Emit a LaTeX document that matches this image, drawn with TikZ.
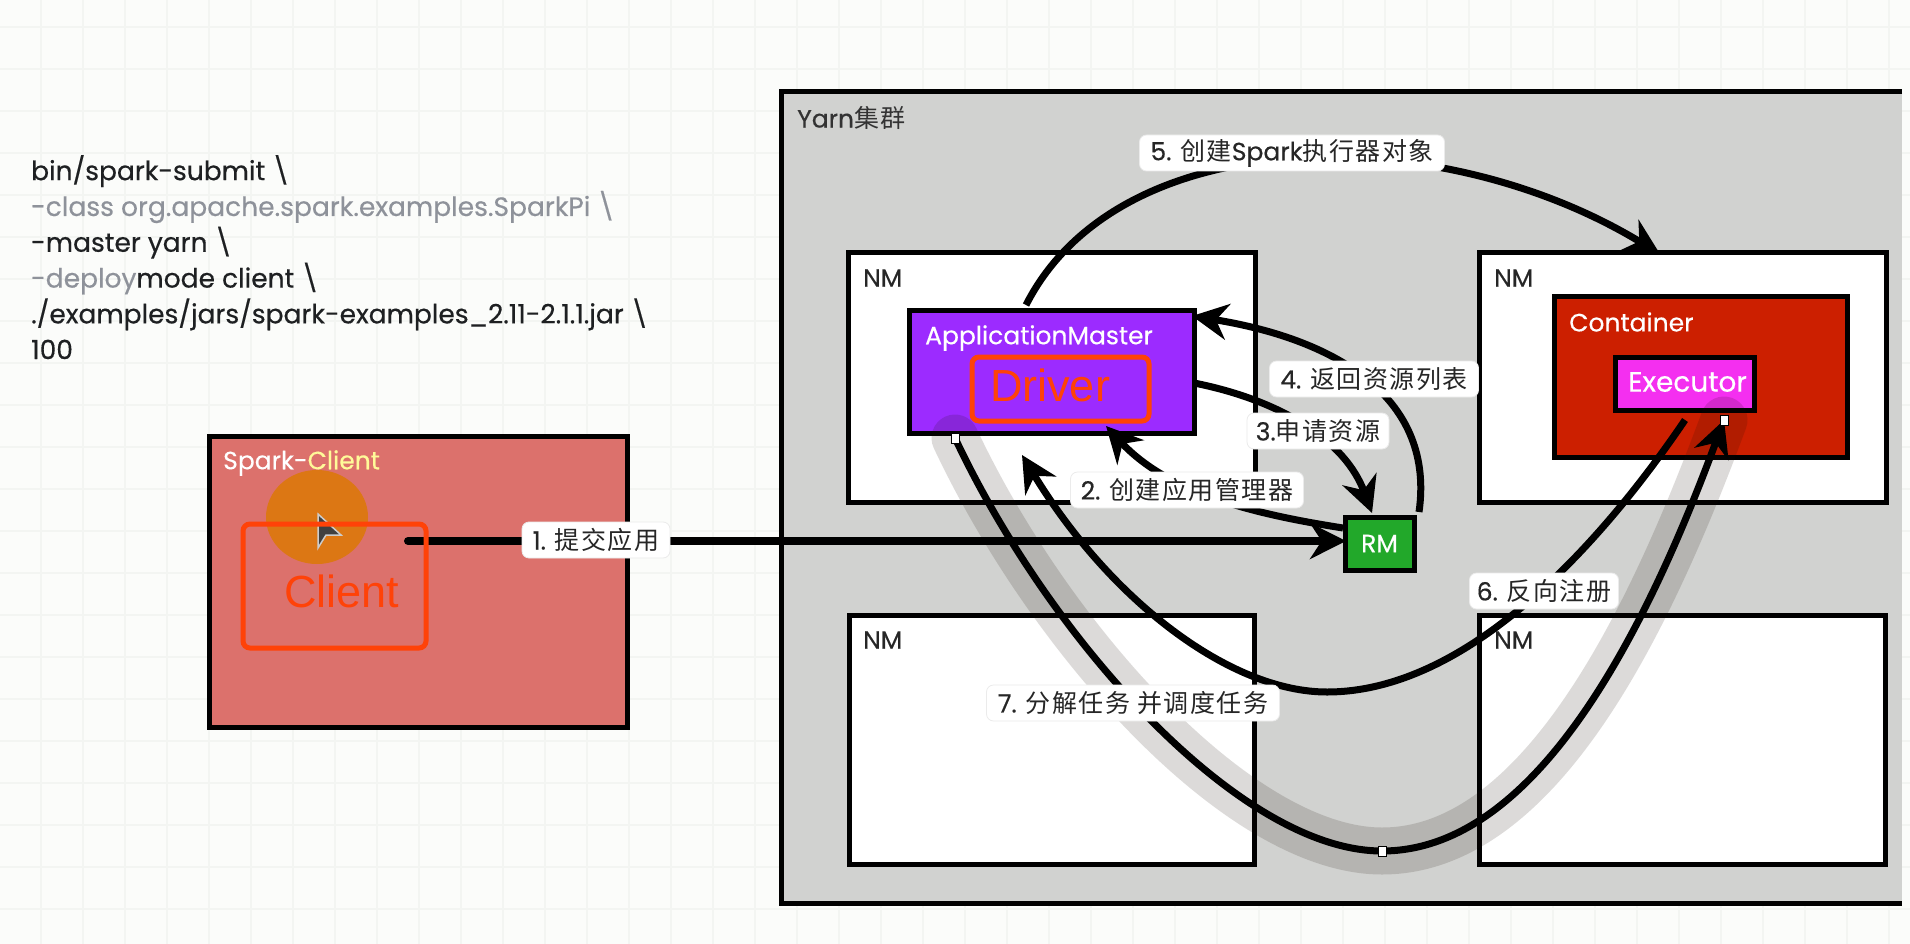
\documentclass[tikz,border=0pt]{standalone}
\usepackage{fontspec}
\usepackage{tikz}
\usetikzlibrary{arrows.meta, shapes.geometric}
\setmainfont[FakeBold=0.4]{Poppins}
\setsansfont{Liberation Sans}
\newfontfamily\cjk[LetterSpace=6]{Noto Sans CJK SC}

\definecolor{pagebg}{HTML}{FBFCFA}
\definecolor{gridline}{HTML}{F3F5F2}
\definecolor{yarngray}{HTML}{D1D2D0}
\definecolor{clientred}{HTML}{DC716C}
\definecolor{dotorange}{HTML}{DC7714}
\definecolor{markred}{HTML}{FF4208}
\definecolor{amviolet}{HTML}{9C2BFF}
\definecolor{boxred}{HTML}{CC1F00}
\definecolor{execpink}{HTML}{F42FF0}
\definecolor{rmgreen}{HTML}{22A82A}
\definecolor{cmdgray}{HTML}{8E929A}
\definecolor{cmdblack}{HTML}{1E2022}
\definecolor{bandbrown}{HTML}{1A0C00}

\tikzset{
    boxbase/.style={draw=black, line width=5pt, anchor=north west, inner sep=0pt, outer sep=0pt},
    nmbox/.style={boxbase, fill=white},
    handwrite/.style={anchor=west, inner sep=0pt, font=\fontsize{25}{30}\selectfont},
    marktext/.style={text=markred, inner sep=0pt, font=\sffamily\fontsize{45}{50}\selectfont},
    markbox/.style={draw=markred, line width=5pt, rounded corners=7pt, anchor=north west, inner sep=0pt, outer sep=0pt},
    steplabel/.style={draw=black!8, line width=.8pt, fill=white, rounded corners=7pt, inner sep=0pt, text=black!85,
        minimum height=36pt, font=\fontsize{25}{30}\selectfont},
    flow/.style={draw=black, line width=7pt, -{Stealth[length=36pt,width=36pt]}},
    shadowband/.style={draw=bandbrown, line width=47pt, opacity=.15, line cap=round},
    handle/.style={draw=black, line width=1pt, fill=white, inner sep=0pt, outer sep=0pt, minimum width=8pt, minimum height=10pt},
}

\begin{document}
\begin{tikzpicture}[x=1pt, y=-1pt]
    \useasboundingbox (0,0) rectangle (1910,944);

    % 背景网格
    \fill[pagebg] (0,0) rectangle (1910,944);
    \foreach \gx in {41,83,...,1905} {\draw[gridline, line width=2pt] (\gx,0) -- (\gx,944);}
    \foreach \gy in {27,69,...,944} {\draw[gridline, line width=2pt] (0,\gy) -- (1910,\gy);}

    % 提交命令
    \node[anchor=north west, inner sep=0pt, align=left, text=cmdblack, font=\fontsize{26.5}{35.8}\selectfont] (cmdtext) at (31,155) {%
        bin/spark-submit \textbackslash\\
        \textcolor{cmdgray}{-class org.apache.spark.examples.SparkPi \textbackslash}\\
        -master yarn \textbackslash\\
        \textcolor{cmdgray}{-deploy}mode client \textbackslash\\
        ./examples/jars/spark-examples\_2.11-2.1.1.jar \textbackslash\\
        100};

    % Yarn 集群
    \node[fill=yarngray, anchor=north west, inner sep=0pt, outer sep=0pt, minimum width=1121pt, minimum height=811pt] (yarn) at (781,92) {};
    \draw[line width=5pt] (yarn.north east) -- (yarn.north west) -- (yarn.south west) -- (yarn.south east);
    \node[handwrite, text=black!80] (yarntext) at (797,118) {Yarn{\cjk 集群}};

    % Spark-Client
    \node[boxbase, fill=clientred, minimum width=418pt, minimum height=291pt] (client) at (209,436) {};
    \node[fill=dotorange, ellipse, inner sep=0pt, minimum width=102pt, minimum height=94pt, draw=none] (dot) at (317,517) {};
    \node[handwrite, text=white] (clienttext) at (223,463) {Spark-\textcolor{yellow!40}{Client}};
    \draw[fill=black!75, draw=white!80!black, line width=1.5pt] (318,514) -- (341,535) -- (326,535) -- (318,548) -- cycle;

    % NodeManager
    \node[nmbox, minimum width=407pt, minimum height=250pt] (nmA) at (848,252) {};
    \node[nmbox, minimum width=407pt, minimum height=250pt] (nmB) at (1479,252) {};
    \node[nmbox, minimum width=405pt, minimum height=249pt] (nmC) at (849,615) {};
    \node[nmbox, minimum width=406pt, minimum height=249pt] (nmD) at (1479,615) {};
    \node[handwrite, text=black!85] (nmAtext) at (863,278) {NM};
    \node[handwrite, text=black!85] (nmBtext) at (1494,278) {NM};
    \node[handwrite, text=black!85] (nmCtext) at (863,640) {NM};
    \node[handwrite, text=black!85] (nmDtext) at (1494,640) {NM};

    % AM, Container, Executor, RM
    \node[boxbase, fill=amviolet, minimum width=285pt, minimum height=123pt] (am) at (909,310) {};
    \node[handwrite, text=white] (amtext) at (925,338) {ApplicationMaster};
    \node[boxbase, fill=boxred, minimum width=293pt, minimum height=161pt] (container) at (1554,296) {};
    \node[handwrite, text=white] (containertext) at (1569,322) {Container};
    \node[boxbase, fill=execpink, minimum width=139pt, minimum height=53pt] (executor) at (1615,357) {};
    \node[handwrite, text=white, font=\fontsize{28}{32}\selectfont] (executortext) at (1628,382) {Executor};
    \node[boxbase, fill=rmgreen, minimum width=69pt, minimum height=53pt] (rm) at (1345,517) {};
    \node[handwrite, text=white, anchor=center] (rmtext) at (rm.center) {RM};

    % 连线端点
    \coordinate (submitfrom) at (408,541);
    \coordinate (submitto) at (1346,541);
    \coordinate (createfrom) at (1343,528);
    \coordinate (createto) at (1106,426);
    \coordinate (askfrom) at (1194,383);
    \coordinate (askto) at (1372,513);
    \coordinate (backfrom) at (1419,512);
    \coordinate (backto) at (1192,316);
    \coordinate (newfrom) at (1026,305);
    \coordinate (newto) at (1660,254);
    \coordinate (regfrom) at (1685,420);
    \coordinate (regmid) at (1327,692);
    \coordinate (regto) at (1022,455);
    \coordinate (taskfrom) at (955,438);
    \coordinate (taskmid) at (1382,851);
    \coordinate (taskto) at (1724,420);

    % 阴影
    \draw[shadowband] (taskfrom) .. controls (1050,640) and (1240,851) .. (taskmid)
        .. controls (1540,851) and (1650,620) .. (taskto);

    % 箭头
    \draw[flow, line width=8pt, line cap=round] (submitfrom) -- (submitto);
    \draw[flow] (createfrom) .. controls (1260,515) and (1170,495) .. (createto);
    \draw[flow] (askfrom) .. controls (1280,400) and (1345,440) .. (askto);
    \draw[flow] (backfrom) .. controls (1435,400) and (1340,340) .. (backto);
    \draw[flow] (newfrom) .. controls (1120,120) and (1440,120) .. (newto);
    \draw[flow] (regfrom) .. controls (1590,560) and (1460,692) .. (regmid)
        .. controls (1230,692) and (1110,600) .. (regto);
    \draw[flow] (taskfrom) .. controls (1050,640) and (1240,851) .. (taskmid)
        .. controls (1540,851) and (1650,620) .. (taskto);

    % 选中手柄
    \node[handle] (handleA) at (taskfrom) {};
    \node[handle] (handleB) at (taskmid) {};
    \node[handle] (handleC) at (taskto) {};

    % 步骤标注
    \node[steplabel, minimum width=148pt] (stepA) at (596,540) {1. {\cjk 提交应用}};
    \node[steplabel, minimum width=233pt] (stepB) at (1187,490) {2. {\cjk 创建应用管理器}};
    \node[steplabel, minimum width=142pt] (stepC) at (1318,431) {3.{\cjk 申请资源}};
    \node[steplabel, minimum width=209pt] (stepD) at (1374,379) {4. {\cjk 返回资源列表}};
    \node[steplabel, minimum width=305pt] (stepE) at (1292,153) {5. {\cjk 创建}Spark{\cjk 执行器对象}};
    \node[steplabel, minimum width=149pt] (stepF) at (1544,591) {6. {\cjk 反向注册}};
    \node[steplabel, minimum width=293pt] (stepG) at (1133,703) {7. {\cjk 分解任务 并调度任务}};

    % 红色标记
    \node[markbox, minimum width=183pt, minimum height=124pt] (clientmark) at (243,524) {};
    \node[marktext] (clientmarktext) at (342,591) {Client};
    \node[markbox, minimum width=177pt, minimum height=64pt] (drivermark) at (972,357) {};
    \node[marktext] (drivermarktext) at (1050,385) {Driver};
\end{tikzpicture}
\end{document}
